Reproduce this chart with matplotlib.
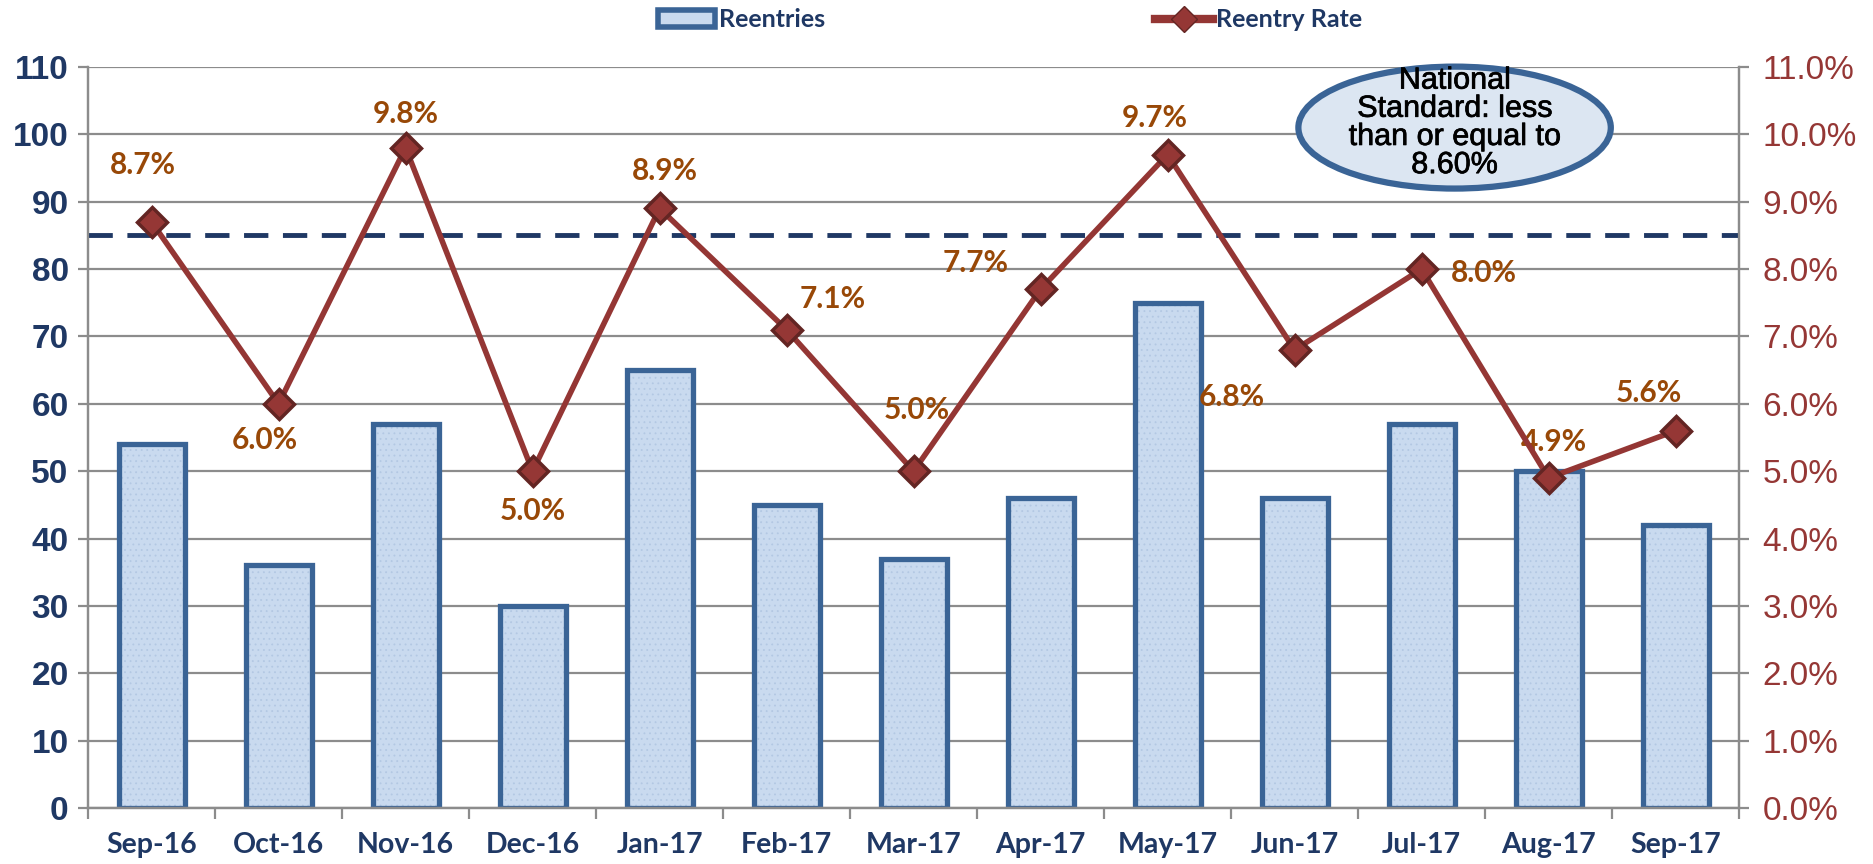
import matplotlib
matplotlib.use("Agg")
import matplotlib.pyplot as plt
import matplotlib.patheffects as pe
from matplotlib.patches import Ellipse
from matplotlib.lines import Line2D
from matplotlib.patches import Patch
from matplotlib.ticker import FuncFormatter
import numpy as np

# ─────────────────────────────────────────────
# Data
# ─────────────────────────────────────────────
months = ["Sep-16", "Oct-16", "Nov-16", "Dec-16", "Jan-17", "Feb-17", "Mar-17",
          "Apr-17", "May-17", "Jun-17", "Jul-17", "Aug-17", "Sep-17"]
reentries = [54, 36, 57, 30, 65, 45, 37, 46, 75, 46, 57, 50, 42]
reentry_rate = [8.7, 6.0, 9.8, 5.0, 8.9, 7.1, 5.0, 7.7, 9.7, 6.8, 8.0, 4.9, 5.6]
standard_level = 85
# label offsets (points) for the rate labels, as placed in the original
label_offsets = [(-6, 41), (-10, -26), (0, 24), (0, -29), (4, 27), (33, 22), (2, 44),
                 (-47, 19), (-9, 26), (-45, -34), (45, -3), (4, 26), (-19, 27)]

NAVY = "#1F3864"
BAR_FACE = "#C9DAEF"
BAR_DOTS = "#B3C8E3"
BAR_EDGE = "#3A6496"
LINE_RED = "#943634"
MARK_EDGE = "#632523"
LABEL_BROWN = "#984807"
GRID = "#8C8C8C"

plt.rcParams['font.family'] = ['Liberation Sans', 'DejaVu Sans']
plt.rcParams['hatch.linewidth'] = 0.6

fig = plt.figure(figsize=(18.74, 8.64), dpi=100)
ax = fig.add_axes([0.047, 0.0648, 0.881, 0.8577])
ax2 = ax.twinx()

x = np.arange(len(months))
# bars: light fill, dotted texture, heavy outline
ax.bar(x, reentries, 0.52, color=BAR_FACE, linewidth=0, zorder=2)
ax.bar(x, reentries, 0.52, color="none", edgecolor=BAR_DOTS, hatch="...", linewidth=0, zorder=2)
ax.bar(x, reentries, 0.52, color="none", edgecolor=BAR_EDGE, linewidth=3.8, zorder=2)
ax.axhline(standard_level, color=NAVY, lw=3.5, dashes=(5, 3), zorder=3)

ax.set_xlim(-0.5, len(months) - 0.5)
ax.set_ylim(0, 110)
ax.set_yticks(range(0, 111, 10))
ax.yaxis.grid(True, color=GRID, lw=1.6, zorder=0)
ax.set_axisbelow(True)
ax.set_xticks(x)
ax.set_xticklabels(months, fontsize=20.5, fontweight="bold", color=NAVY, family=['Lato', 'DejaVu Sans'])
ax.set_xticks(np.arange(-0.5, len(months)), minor=True)
ax.tick_params(axis="x", which="major", length=0, pad=17)
ax.tick_params(axis="x", which="minor", length=8, width=1.6, color=GRID, direction="out")
ax.tick_params(axis="y", labelsize=24, labelcolor=NAVY, length=7, width=1.6, color=GRID, pad=7)
for lbl in ax.get_yticklabels():
    lbl.set_fontweight("bold")

ax.spines["top"].set_visible(False)
ax2.spines["top"].set_visible(False)
for a in (ax, ax2):
    for sp in ["left", "right", "bottom"]:
        a.spines[sp].set_color(GRID)
        a.spines[sp].set_linewidth(1.6)

ax2.plot(x, reentry_rate, color=LINE_RED, lw=4, marker="D", markersize=15,
         markerfacecolor="#953735", markeredgecolor=MARK_EDGE, markeredgewidth=2.5, zorder=5)
ax2.set_ylim(0, 11)
ax2.set_yticks(np.arange(0, 11.01, 1))
ax2.yaxis.set_major_formatter(FuncFormatter(lambda v, p: f"{v:.1f}%"))
ax2.tick_params(axis="y", labelsize=24, labelcolor="#953735", length=7, width=1.6, color=GRID, pad=10)

for xi, r, (dx, dy) in zip(x, reentry_rate, label_offsets):
    ax2.annotate(f"{r:.1f}%", xy=(xi, r), xytext=(dx, dy), textcoords="offset points",
                 ha="center", va="center", fontsize=21.5, fontweight="bold", color=LABEL_BROWN,
                 family=['Lato', 'DejaVu Sans'])

# National standard callout
ell = Ellipse((10.26, 101), 2.46, 18.1, facecolor="#DCE6F2", edgecolor=BAR_EDGE,
              lw=4.5, zorder=6, clip_on=False)
ax.add_patch(ell)
ax.text(10.26, 101.7, "National\nStandard: less\nthan or equal to\n8.60%", ha="center", va="center",
        fontsize=22, color="black", linespacing=0.92, zorder=7,
        path_effects=[pe.withStroke(linewidth=0.5, foreground="black")])

# Legend
handles = [Patch(facecolor=BAR_FACE, edgecolor=BAR_EDGE, linewidth=4),
           Line2D([0], [0], color=LINE_RED, lw=6, marker="D", markersize=13,
                  markerfacecolor="#953735", markeredgecolor=MARK_EDGE)]
leg = fig.legend(handles, ["Reentries", "Reentry Rate"], loc="center", bbox_to_anchor=(0.539, 0.977),
                 ncol=2, frameon=False, columnspacing=13.2, handlelength=2.3,
                 handletextpad=0.15, prop={'family': ['Lato', 'DejaVu Sans'], 'weight': 'bold', 'size': 18})
for t in leg.get_texts():
    t.set_color(NAVY)

plt.savefig("out.png")
plt.close()
